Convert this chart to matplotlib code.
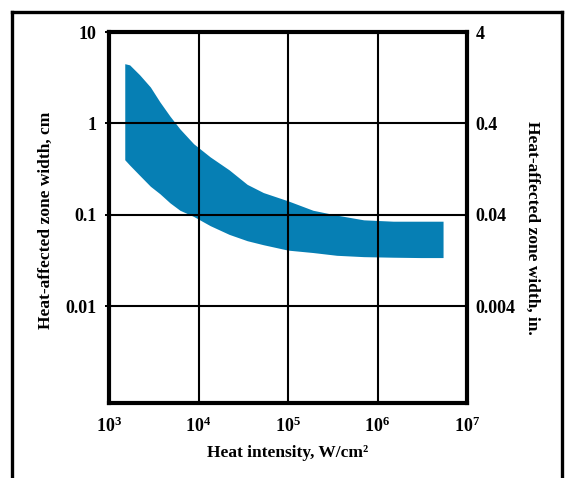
import matplotlib.pyplot as plt
from matplotlib.lines import Line2D

plt.rcParams['font.family'] = 'Liberation Serif'
plt.rcParams['font.weight'] = 'bold'
plt.rcParams['axes.labelweight'] = 'bold'
plt.rcParams['mathtext.fontset'] = 'custom'
plt.rcParams['mathtext.rm'] = 'Liberation Serif:bold'
plt.rcParams['mathtext.default'] = 'rm'

# heat intensity, W/cm2
intensity = [1.5e3, 1.7e3, 2.2e3, 2.9e3, 3.7e3, 4.8e3, 6.2e3, 8.8e3, 1.35e4, 2.2e4,
             3.5e4, 5.3e4, 1e5, 1.9e5, 3.5e5, 7e5, 1.5e6, 3e6, 5.4e6]
# zone width band, cm
width_upper = [4.5, 4.37, 3.4, 2.5, 1.72, 1.2, 0.87, 0.60, 0.43, 0.31,
               0.215, 0.175, 0.142, 0.112, 0.099, 0.088, 0.085, 0.085, 0.085]
width_lower = [0.40, 0.35, 0.27, 0.205, 0.17, 0.135, 0.112, 0.096, 0.076, 0.061,
               0.052, 0.047, 0.041, 0.0386, 0.036, 0.0348, 0.0343, 0.034, 0.034]

x_ticks = [1e3, 1e4, 1e5, 1e6, 1e7]
x_labels = ['10$^{3}$', '10$^{4}$', '10$^{5}$', '10$^{6}$', '10$^{7}$']
y_ticks = [10, 1, 0.1, 0.01]
y_labels = ['10', '1', '0.1', '0.01']
y_right_labels = ['4', '0.4', '0.04', '0.004']

fig = plt.figure(figsize=(5.66, 4.78), dpi=100)
ax = fig.add_axes([109 / 566, 1 - 403 / 478, 358 / 566, 371 / 478])

ax.fill_between(intensity, width_lower, width_upper, color='#067fb4', lw=0, zorder=1)

ax.set_xscale('log')
ax.set_yscale('log')
ax.set_xlim(1e3, 1e7)
ax.set_ylim(10 ** -3.06, 10)
ax.set_xticks(x_ticks)
ax.set_xticklabels(x_labels)
ax.set_yticks(y_ticks)
ax.set_yticklabels(y_labels)
ax.minorticks_off()
ax.grid(True, color='black', lw=1.5, zorder=2)
ax.set_axisbelow(False)
ax.tick_params(axis='x', length=0, pad=10, labelsize=13)
ax.tick_params(axis='y', length=3, width=1.4, pad=6, labelsize=13)
for s in ax.spines.values():
    s.set_linewidth(3)
    s.set_zorder(3)

ax2 = ax.twinx()
ax2.set_yscale('log')
ax2.set_ylim(ax.get_ylim())
ax2.set_yticks(y_ticks)
ax2.set_yticklabels(y_right_labels)
ax2.minorticks_off()
ax2.tick_params(axis='y', length=0, pad=6, labelsize=13)
for s in ax2.spines.values():
    s.set_visible(False)

ax.set_xlabel('Heat intensity, W/cm²', fontsize=12.5, labelpad=6)
fig.text(46 / 566, 1 - 220 / 478, 'Heat-affected zone width, cm', rotation=90,
         ha='center', va='center', fontsize=12.5)
fig.text(532 / 566, 1 - 228 / 478, 'Heat-affected zone width, in.', rotation=270,
         ha='center', va='center', fontsize=12.5)

# outer frame
fx0, fx1, fy1 = 12 / 566, 561.5 / 566, 1 - 11.5 / 478
for xs, ys in [([fx0, fx0], [0, fy1]), ([fx0, fx1], [fy1, fy1]), ([fx1, fx1], [fy1, 0])]:
    fig.add_artist(Line2D(xs, ys, color='black', lw=2.4, transform=fig.transFigure))

fig.savefig('out.png', dpi=100)
